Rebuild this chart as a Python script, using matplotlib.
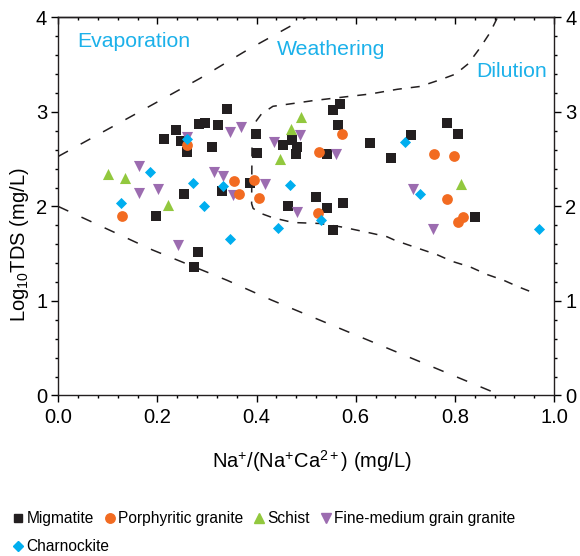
import matplotlib
matplotlib.use('Agg')
import matplotlib.pyplot as plt
from matplotlib.lines import Line2D
from matplotlib.ticker import MultipleLocator

plt.rcParams['font.family'] = ['Liberation Sans', 'DejaVu Sans']
plt.rcParams['mathtext.fontset'] = 'custom'
plt.rcParams['mathtext.rm'] = 'Liberation Sans'
plt.rcParams['mathtext.it'] = 'Liberation Sans:italic'
plt.rcParams['mathtext.bf'] = 'Liberation Sans:bold'

# ---------------- data ----------------
mig_x = [0.340, 0.283, 0.295, 0.323, 0.237, 0.214, 0.247, 0.259, 0.310, 0.398,
         0.400, 0.453, 0.472, 0.481, 0.479, 0.569, 0.554, 0.565, 0.542, 0.628,
         0.671, 0.712, 0.785, 0.807, 0.254, 0.330, 0.387, 0.197, 0.464, 0.520,
         0.575, 0.542, 0.555, 0.840, 0.281, 0.274]
mig_y = [3.036, 2.877, 2.888, 2.867, 2.807, 2.711, 2.690, 2.579, 2.624, 2.772,
         2.571, 2.655, 2.701, 2.627, 2.550, 3.087, 3.018, 2.867, 2.560, 2.674,
         2.518, 2.761, 2.884, 2.772, 2.137, 2.167, 2.252, 1.901, 2.006, 2.101,
         2.038, 1.979, 1.749, 1.884, 1.514, 1.355]

por_x = [0.260, 0.355, 0.365, 0.394, 0.405, 0.129, 0.525, 0.572, 0.523, 0.757,
         0.799, 0.784, 0.816, 0.806]
por_y = [2.648, 2.267, 2.137, 2.278, 2.091, 1.897, 2.577, 2.772, 1.926, 2.560,
         2.535, 2.077, 1.890, 1.837]

sch_x = [0.101, 0.135, 0.221, 0.447, 0.469, 0.489, 0.813]
sch_y = [2.341, 2.296, 2.014, 2.507, 2.825, 2.947, 2.236]

fmg_x = [0.163, 0.163, 0.202, 0.259, 0.347, 0.369, 0.315, 0.333, 0.353, 0.417,
         0.436, 0.488, 0.560, 0.481, 0.242, 0.716, 0.756]
fmg_y = [2.433, 2.144, 2.183, 2.736, 2.793, 2.841, 2.363, 2.326, 2.119, 2.243,
         2.683, 2.754, 2.560, 1.940, 1.591, 2.180, 1.757]

cha_x = [0.260, 0.186, 0.271, 0.332, 0.468, 0.126, 0.293, 0.444, 0.346, 0.530,
         0.700, 0.729, 0.969]
cha_y = [2.719, 2.363, 2.249, 2.218, 2.225, 2.032, 2.006, 1.771, 1.654, 1.858,
         2.683, 2.127, 1.757]

# boundary lines of the Gibbs diagram
upper_x = [0.0, 0.145, 0.286, 0.380, 0.500]
upper_y = [2.53, 2.947, 3.356, 3.652, 4.0]

lower_x = [0.0, 0.19, 0.34, 0.43, 0.88]
lower_y = [2.0, 1.54, 1.22, 1.01, 0.03]

inner_x = [0.885, 0.871, 0.851, 0.827, 0.801, 0.770, 0.730, 0.684, 0.629, 0.579,
           0.514, 0.474, 0.433, 0.410, 0.400, 0.391, 0.390, 0.393, 0.407, 0.433,
           0.474, 0.528, 0.575, 0.629, 0.663, 0.680, 0.730, 0.764, 0.794, 0.831,
           0.865, 0.898, 0.928, 0.962]
inner_y = [3.99, 3.84, 3.68, 3.51, 3.40, 3.34, 3.27, 3.24, 3.19, 3.16,
           3.12, 3.09, 3.06, 2.98, 2.91, 2.83, 2.03, 1.98, 1.93, 1.88,
           1.83, 1.82, 1.78, 1.72, 1.68, 1.64, 1.55, 1.49, 1.42, 1.36,
           1.28, 1.22, 1.15, 1.08]

labels = ['Migmatite', 'Porphyritic granite', 'Schist',
          'Fine-medium grain granite', 'Charnockite']
region_names = ['Evaporation', 'Weathering', 'Dilution']

# ---------------- style ----------------
c_black = '#231f20'
c_orange = '#f26b21'
c_green = '#92c83e'
c_purple = '#9c6cb0'
c_blue = '#00aeef'
c_text = '#1cb1ea'

fig = plt.figure(figsize=(5.8, 5.56), dpi=100)
ax = fig.add_axes([0.1005, 0.2887, 0.8547, 0.6799])

outer_dash = (0, (7.2, 9.5))
inner_dash = (0, (5.9, 5.9))
ax.plot(upper_x, upper_y, color=c_black, lw=1.1, ls=outer_dash, zorder=1)
ax.plot(lower_x, lower_y, color=c_black, lw=1.1, ls=outer_dash, zorder=1)
ax.plot(inner_x, inner_y, color=c_black, lw=1.1, ls=inner_dash, zorder=1)

ax.scatter(mig_x, mig_y, marker='s', s=44, color=c_black, linewidths=0, zorder=3)
ax.scatter(fmg_x, fmg_y, marker='v', s=64, color=c_purple, linewidths=0, zorder=4)
ax.scatter(sch_x, sch_y, marker='^', s=64, color=c_green, linewidths=0, zorder=5)
ax.scatter(por_x, por_y, marker='o', s=60, color=c_orange, linewidths=0, zorder=6)
ax.scatter(cha_x, cha_y, marker='D', s=32, color=c_blue, linewidths=0, zorder=7)

ax.text(0.038, 3.687, region_names[0], color=c_text, fontsize=15.3, va='baseline', ha='left')
ax.text(0.441, 3.60, region_names[1], color=c_text, fontsize=15.3, va='baseline', ha='left')
ax.text(0.844, 3.37, region_names[2], color=c_text, fontsize=15.3, va='baseline', ha='left')

ax.set_xlim(0, 1)
ax.set_ylim(0, 4)
ax.xaxis.set_major_locator(MultipleLocator(0.2))
ax.xaxis.set_minor_locator(MultipleLocator(0.04))
ax.yaxis.set_major_locator(MultipleLocator(1))
ax.yaxis.set_minor_locator(MultipleLocator(0.2))

for sp in ax.spines.values():
    sp.set_linewidth(1.0)
    sp.set_color(c_black)

ax.tick_params(axis='x', which='both', direction='out', top=False, bottom=True,
               labelsize=14.5, width=1.0, pad=4)
ax.tick_params(axis='y', which='both', direction='out', left=True, right=True,
               labelright=True, labelsize=14.5, width=1.0, pad=3)
ax.tick_params(which='major', length=5)
ax.tick_params(which='minor', length=2.5)

secx = ax.secondary_xaxis('top')
secx.xaxis.set_major_locator(MultipleLocator(0.2))
secx.xaxis.set_minor_locator(MultipleLocator(0.04))
secx.tick_params(which='both', direction='in', labeltop=False, width=1.0)
secx.tick_params(which='major', length=5)
secx.tick_params(which='minor', length=2.5)
secx.spines['top'].set_linewidth(1.0)

ax.set_xlabel(r'Na$^{+}$/(Na$^{+}$Ca$^{2+}$) (mg/L)', fontsize=14.5)
ax.xaxis.set_label_coords(0.512, -0.138)
ax.set_ylabel(r'Log$_{10}$TDS (mg/L)', fontsize=14.5)
ax.yaxis.set_label_coords(-0.055, 0.40)

row1 = [
    Line2D([], [], marker='s', ls='none', color=c_black, ms=6.3, label=labels[0]),
    Line2D([], [], marker='o', ls='none', color=c_orange, ms=6.8, label=labels[1]),
    Line2D([], [], marker='^', ls='none', color=c_green, ms=7.4, label=labels[2]),
    Line2D([], [], marker='v', ls='none', color=c_purple, ms=6.6, label=labels[3]),
]
row2 = [
    Line2D([], [], marker='D', ls='none', color=c_blue, ms=5.1, label=labels[4]),
]
leg_kw = dict(frameon=False, fontsize=11.2, handlelength=0.6,
              handletextpad=0.23, columnspacing=0.72,
              borderpad=0, borderaxespad=0, loc='upper left')
fig.legend(handles=row1, bbox_to_anchor=(0.0236, 0.081), ncol=4, **leg_kw)
fig.legend(handles=row2, bbox_to_anchor=(0.0236, 0.0306), ncol=1, **leg_kw)

fig.savefig('out.png', dpi=100)
